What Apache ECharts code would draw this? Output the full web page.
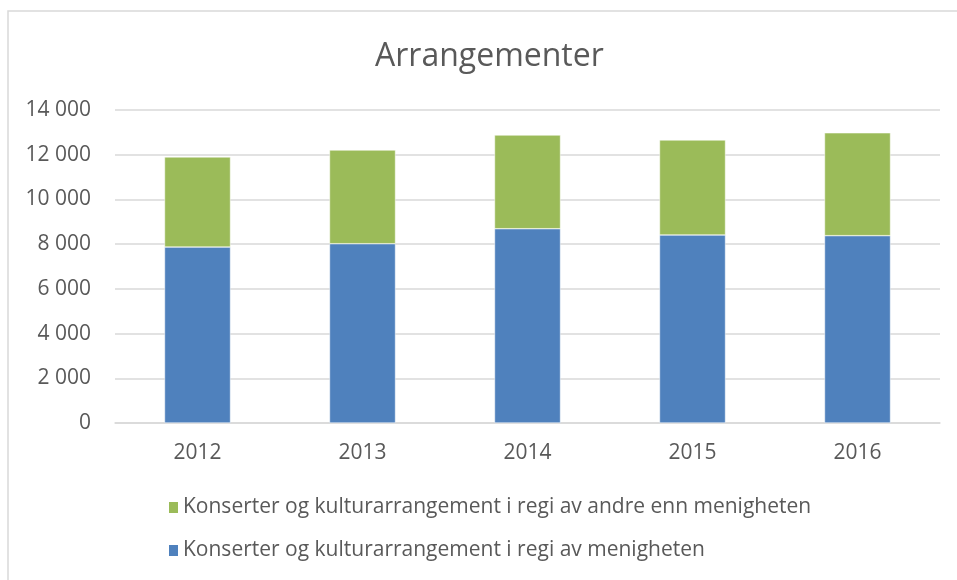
<!DOCTYPE html>
<html>
<head>
<meta charset="utf-8">
<script src="https://cdn.jsdelivr.net/npm/echarts@6/dist/echarts.min.js"></script>
<style>
  html,body{margin:0;padding:0;background:#fff;}
  #main{width:957px;height:580px;}
</style>
</head>
<body>
<div id="main"></div>
<script>
// data
const years = ['2012', '2013', '2014', '2015', '2016']
const regiMenigheten = [7870, 8020, 8690, 8410, 8380]
const regiAndre = [4030, 4190, 4190, 4250, 4600]
const nameAndre = 'Konserter og kulturarrangement i regi av andre enn menigheten'
const nameMenigheten = 'Konserter og kulturarrangement i regi av menigheten'

const font = '"Open Sans", "Noto Sans", sans-serif'
const textColor = '#595959'

let chart = echarts.init(document.getElementById('main'))

function fmt(v){
  return String(v).replace(/\B(?=(\d{3})+(?!\d))/g, ' ')
}

chart.setOption({
  animation: false,
  textStyle: {fontFamily: font},
  title: {
    text: 'Arrangementer',
    left: 370,
    top: 36,
    textStyle: {fontFamily: font, fontSize: 32, fontWeight: 'normal', color: textColor}
  },
  graphic: [{
    type: 'rect',
    shape: {x: 8, y: 11, width: 960, height: 580},
    style: {fill: 'none', stroke: '#d9d9d9', lineWidth: 1.5},
    silent: true
  }],
  legend: {
    orient: 'vertical',
    left: 162,
    top: 492,
    itemGap: 22,
    itemWidth: 11,
    itemHeight: 13,
    icon: 'rect',
    data: [nameAndre, nameMenigheten],
    textStyle: {fontFamily: font, fontSize: 21, color: textColor, padding: [0, 0, 0, -1]}
  },
  grid: {left: 115, right: 17, top: 110, bottom: 157},
  xAxis: {
    type: 'category',
    data: years,
    axisTick: {show: false},
    axisLine: {lineStyle: {color: '#d9d9d9', width: 1.5}},
    axisLabel: {fontFamily: font, fontSize: 21, color: textColor, margin: 20}
  },
  yAxis: {
    type: 'value',
    min: 0,
    max: 14000,
    interval: 2000,
    axisLine: {show: false},
    axisTick: {show: false},
    splitLine: {lineStyle: {color: '#d9d9d9', width: 1.5}},
    axisLabel: {fontFamily: font, fontSize: 21, color: textColor, margin: 24, formatter: fmt}
  },
  series: [{
    name: nameMenigheten,
    type: 'bar',
    stack: 'total',
    barWidth: '40%',
    data: regiMenigheten,
    itemStyle: {color: '#4f81bd', borderColor: '#fff', borderWidth: 0.5}
  }, {
    name: nameAndre,
    type: 'bar',
    stack: 'total',
    data: regiAndre,
    itemStyle: {color: '#9bbb59', borderColor: '#fff', borderWidth: 0.5}
  }]
})
</script>
</body>
</html>
